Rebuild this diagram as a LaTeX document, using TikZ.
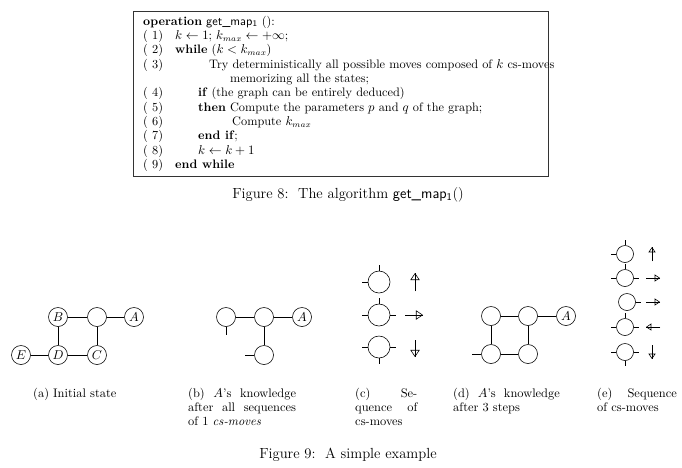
\documentclass[tikz,border=0pt]{standalone}
\usepackage{amsmath,amssymb}
\usepackage{tikz}
\usetikzlibrary{arrows.meta}

\newcommand{\getmap}{\textsf{get\_map}$_{\textsf{1}}$}
\newcommand{\spreadline}[2]{\makebox[#1][s]{#2}}

\begin{document}
\begin{tikzpicture}[x=0.03cm,y=-0.03cm,>=Latex]
  \tikzset{
    line/.style={anchor=base west, inner sep=0pt, font=\fontsize{10.5}{12}\selectfont},
    sub/.style={anchor=base west, inner sep=0pt, font=\fontsize{10.6}{13}\selectfont},
    caption/.style={anchor=base, inner sep=0pt, font=\fontsize{12.5}{15}\selectfont},
    frame/.style={draw=black!80, line width=0.8pt, minimum width=12.45cm, minimum height=4.95cm, inner sep=0pt},
    site/.style={draw, circle, inner sep=0pt, minimum size=0.57cm, line width=0.5pt, font=\fontsize{10.6}{13}\selectfont},
    wire/.style={line width=0.5pt},
    port/.style={line width=0.5pt},
    move/.style={line width=0.5pt, postaction={draw, -{Triangle[open,length=6pt,width=8pt]}}},
    smallmove/.style={line width=0.5pt, postaction={draw, -{Triangle[open,length=4.5pt,width=6pt]}}}
  }
  \useasboundingbox (0,0) rectangle (682,467);

  % algorithm box (figure 8)
  \node[frame] (algo) at (340.5,93.5) {};
  \node[line] (hd) at (143,25) {\textbf{operation} \getmap\ ():};
  \node[line] (n1) at (143,39.5) {(\ 1)};
  \node[line] (n2) at (143,53.8) {(\ 2)};
  \node[line] (n3) at (143,68.1) {(\ 3)};
  \node[line] (n4) at (143,96.8) {(\ 4)};
  \node[line] (n5) at (143,111.1) {(\ 5)};
  \node[line] (n6) at (143,125.4) {(\ 6)};
  \node[line] (n7) at (143,139.7) {(\ 7)};
  \node[line] (n8) at (143,154) {(\ 8)};
  \node[line] (n9) at (143,168.3) {(\ 9)};
  \node[line] (s1) at (175,39.5) {$k \leftarrow 1$; $k_{max} \leftarrow +\infty$;};
  \node[line] (s2) at (175,53.8) {\textbf{while} ($k < k_{max}$)};
  \node[line] (s3) at (209,68.1) {Try deterministically all possible moves composed of $k$ cs-moves};
  \node[line] (s3b) at (230,82.4) {memorizing all the states;};
  \node[line] (s4) at (198,96.8) {\textbf{if} (the graph can be entirely deduced)};
  \node[line] (s5) at (198,111.1) {\textbf{then} Compute the parameters $p$ and $q$ of the graph;};
  \node[line] (s6) at (232,125.4) {Compute $k_{max}$};
  \node[line] (s7) at (198,139.7) {\textbf{end if};};
  \node[line] (s8) at (198,154) {$k \leftarrow k+1$};
  \node[line] (s9) at (175,168.3) {\textbf{end while}};
  \node[caption] (cap8) at (348,198) {Figure 8:\ \ The algorithm \getmap()};

  % (a) initial state
  \node[site] (aB) at (58,317) {$B$};
  \node[site] (aT) at (97,317) {};
  \node[site] (aA) at (134,317) {$A$};
  \node[site] (aE) at (21,355) {$E$};
  \node[site] (aD) at (58,355) {$D$};
  \node[site] (aC) at (97,355) {$C$};
  \draw[wire] (aB) -- (aT) -- (aA);
  \draw[wire] (aE) -- (aD) -- (aC);
  \draw[wire] (aB) -- (aD);
  \draw[wire] (aT) -- (aC);
  \node[sub] (capa) at (33,397) {(a) Initial state};

  % (b) knowledge after one cs-move
  \node[site] (bL) at (226,317) {};
  \node[site] (bM) at (264,317) {};
  \node[site] (bA) at (302,317) {$A$};
  \node[site] (bS) at (264,355) {};
  \draw[wire] (bL) -- (bM) -- (bA);
  \draw[wire] (bM) -- (bS);
  \draw[port] (bL.south) -- ++(0,8);
  \draw[port] (bS.west) -- ++(-9,0);
  \node[sub] (capb1) at (188,397) {\spreadline{92pt}{(b) $A$'s knowledge}};
  \node[sub] (capb2) at (188,411) {\spreadline{92pt}{after all sequences}};
  \node[sub] (capb3) at (188,425) {of 1 \emph{cs-moves}};

  % (c) sequence of cs-moves
  \foreach \i/\y in {1/282,2/315,3/347}
    \node[site, minimum size=0.66cm] (cc\i) at (379,\y) {};
  \draw[port] (cc1.north) -- ++(0,-6);
  \draw[port] (cc1.west) -- ++(-6,0);
  \draw[port] (cc2.north) -- ++(0,-6);
  \draw[port] (cc2.west) -- ++(-6,0);
  \draw[port] (cc2.east) -- ++(6,0);
  \draw[port] (cc3.west) -- ++(-6,0);
  \draw[port] (cc3.east) -- ++(6,0);
  \draw[port] (cc3.south) -- ++(0,6);
  \draw[move] (415,291) -- (415,273);
  \draw[move] (405,315) -- (423,315);
  \draw[move] (415,340) -- (415,357);
  \node[sub] (capc1) at (355,397) {\spreadline{53pt}{(c) Se-}};
  \node[sub] (capc2) at (355,411) {\spreadline{53pt}{quence of}};
  \node[sub] (capc3) at (355,425) {cs-moves};

  % (d) knowledge after 3 steps
  \node[site] (dTL) at (491,316) {};
  \node[site] (dTR) at (528,316) {};
  \node[site] (dA) at (566,316) {$A$};
  \node[site] (dBL) at (491,354) {};
  \node[site] (dBR) at (528,354) {};
  \draw[wire] (dTL) -- (dTR) -- (dA);
  \draw[wire] (dBL) -- (dBR);
  \draw[wire] (dTL) -- (dBL);
  \draw[wire] (dTR) -- (dBR);
  \draw[port] (dBL.west) -- ++(-9,0);
  \node[sub] (capd1) at (453,397) {\spreadline{91pt}{(d) $A$'s knowledge}};
  \node[sub] (capd2) at (453,411) {after 3 steps};

  % (e) longer sequence of cs-moves
  \foreach \i/\x/\y in {1/625/254,2/625/278,3/627/302,4/625/327,5/625/352}
    \node[site, minimum size=0.51cm] (ce\i) at (\x,\y) {};
  \draw[port] (ce1.north) -- ++(0,-5);
  \draw[port] (ce1.west) -- ++(-5,0);
  \draw[port] (ce2.north) -- ++(0,-5);
  \draw[port] (ce2.west) -- ++(-5,0);
  \draw[port] (ce2.east) -- ++(5,0);
  \draw[port] (ce3.east) -- ++(5,0);
  \draw[port] (ce4.north) -- ++(0,-5);
  \draw[port] (ce4.west) -- ++(-5,0);
  \draw[port] (ce4.east) -- ++(5,0);
  \draw[port] (ce5.west) -- ++(-5,0);
  \draw[port] (ce5.east) -- ++(5,0);
  \draw[port] (ce5.south) -- ++(0,5);
  \draw[smallmove] (652,261) -- (652,247);
  \draw[smallmove] (646,278) -- (660,278);
  \draw[smallmove] (646,302) -- (660,302);
  \draw[smallmove] (660,327) -- (646,327);
  \draw[smallmove] (652,345) -- (652,359);
  \node[sub] (cape1) at (597,397) {\spreadline{68pt}{(e) Sequence}};
  \node[sub] (cape2) at (597,411) {of cs-moves};

  \node[caption] (cap9) at (348,458) {Figure 9:\ \ A simple example};
\end{tikzpicture}
\end{document}
